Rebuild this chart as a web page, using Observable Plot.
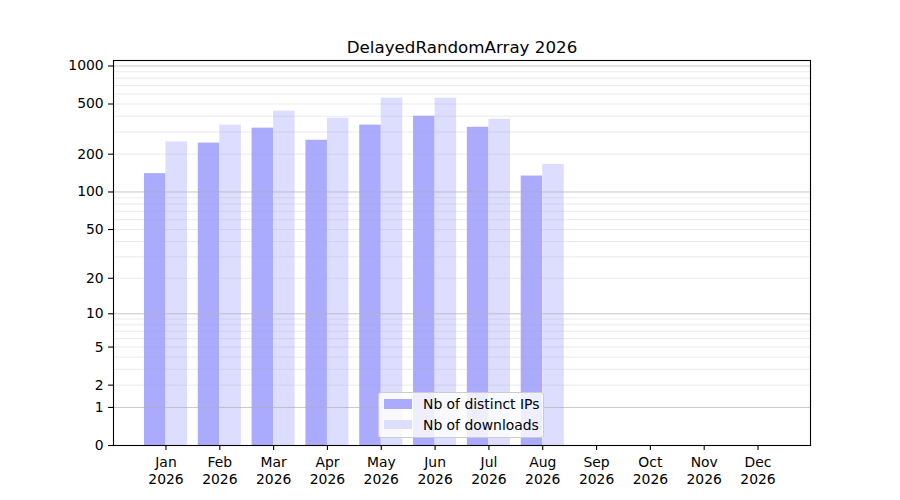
<!DOCTYPE html>
<html><head><meta charset="utf-8">
<script src="https://cdn.jsdelivr.net/npm/d3@7"></script>
<script src="https://cdn.jsdelivr.net/npm/@observablehq/plot@0.6"></script>
<style>
body{margin:0;background:#fff;}
#wrap{position:relative;width:900px;height:500px;font-family:"DejaVu Sans",sans-serif;}
#legend{position:absolute;left:378px;top:392px;width:166px;height:46px;border:1px solid #cccccc;border-radius:3px;background:rgba(255,255,255,0.8);box-sizing:border-box;font-size:13.9px;color:#000;}
#legend .row{position:absolute;left:5px;height:16px;line-height:16px;white-space:nowrap;}
#legend .sw{position:absolute;left:0;top:3px;width:28px;height:9.7px;}
#legend .lab{position:absolute;left:39px;top:0;}
</style>
</head><body>
<div id="wrap"></div>
<script>
const months = ["Jan","Feb","Mar","Apr","May","Jun","Jul","Aug","Sep","Oct","Nov","Dec"];
const year = "2026";
const distinctIPs = [140, 245, 322, 258, 340, 400, 327, 134];
const downloads = [250, 340, 439, 386, 556, 556, 379, 166];
const yTicks = [0, 1, 2, 5, 10, 20, 50, 100, 200, 500, 1000];
const majorGrid = [1, 10, 100, 1000];
const minorGrid = [2,3,4,5,6,7,8,9,20,30,40,50,60,70,80,90,200,300,400,500,600,700,800,900];
const title = "DelayedRandomArray 2026";
const seriesNames = ["Nb of distinct IPs", "Nb of downloads"];
const colors = ["#aaaaff", "#ddddff"];

const ipData = distinctIPs.map((v, i) => ({month: months[i], value: v}));
const dlData = downloads.map((v, i) => ({month: months[i], value: v}));

const W = 900, H = 500, mL = 113, mR = 90, mT = 60, mB = 55;
const pOuter = 0.475;
const step = (W - mL - mR) / (months.length + 2 * pOuter);

const chart = Plot.plot({
  width: W, height: H,
  marginLeft: mL, marginRight: mR, marginTop: mT, marginBottom: mB,
  style: {fontFamily: "DejaVu Sans", fontSize: "13.9px", color: "black", background: "white", overflow: "visible"},
  x: {type: "band", domain: months, paddingInner: 0, paddingOuter: pOuter, align: 0.5, round: false, label: null},
  y: {type: "symlog", domain: [0, 1105], label: null},
  marks: [
    Plot.barY(ipData, {x: "month", y: "value", fill: colors[0], insetLeft: step * 0.1, insetRight: step * 0.5}),
    Plot.barY(dlData, {x: "month", y: "value", fill: colors[1], insetLeft: step * 0.5, insetRight: step * 0.1}),
    Plot.ruleY(minorGrid, {stroke: "#b0b0b0", strokeOpacity: 0.25, strokeWidth: 1}),
    Plot.ruleY(majorGrid, {stroke: "#b0b0b0", strokeOpacity: 0.7, strokeWidth: 1}),
    Plot.axisY({ticks: yTicks, tickFormat: d => String(d), tickSize: 4.9, tickPadding: 4.9, label: null, strokeWidth: 1.1}),
    Plot.axisX({tickFormat: m => m + "\n" + year, tickSize: 4.9, tickPadding: 4.9, lineHeight: 1.2, label: null, strokeWidth: 1.1}),
    Plot.frame({stroke: "black", strokeWidth: 1.1}),
    Plot.text([title], {text: d => d, frameAnchor: "top", dy: -8, lineAnchor: "bottom", fontSize: 16.7})
  ]
});
const wrap = document.getElementById("wrap");
wrap.appendChild(chart);

const legend = document.createElement("div");
legend.id = "legend";
seriesNames.forEach((name, i) => {
  const row = document.createElement("div");
  row.className = "row";
  row.style.top = (3 + i * 20.5) + "px";
  const sw = document.createElement("div");
  sw.className = "sw";
  sw.style.background = colors[i];
  const lab = document.createElement("span");
  lab.className = "lab";
  lab.textContent = name;
  row.appendChild(sw); row.appendChild(lab);
  legend.appendChild(row);
});
wrap.appendChild(legend);
</script>
</body></html>
